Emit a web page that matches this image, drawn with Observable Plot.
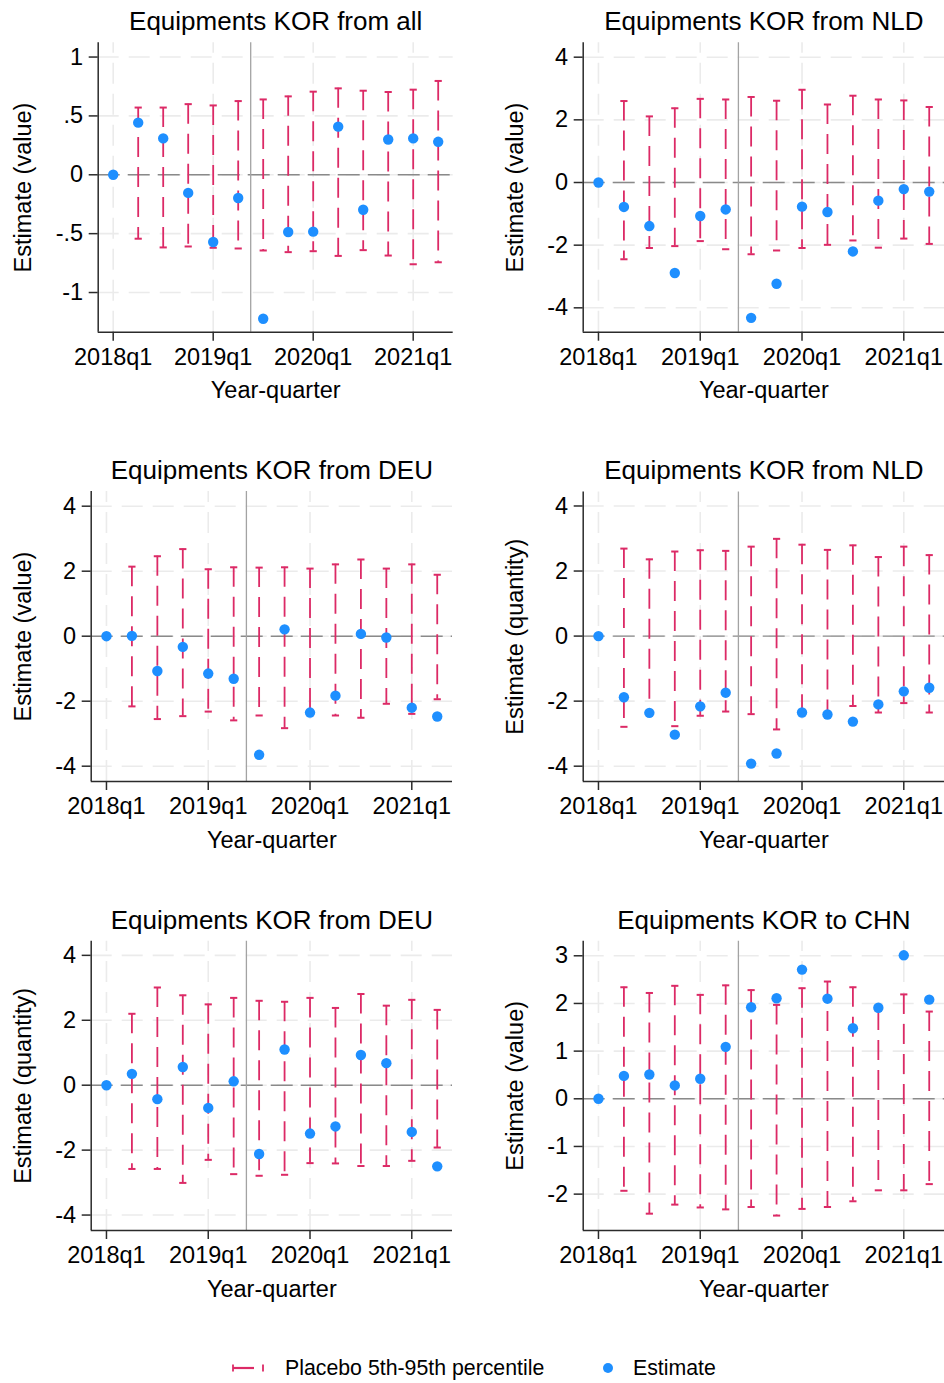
<!DOCTYPE html>
<html><head><meta charset="utf-8">
<script src="https://cdn.jsdelivr.net/npm/d3@7"></script>
<script src="https://cdn.jsdelivr.net/npm/@observablehq/plot@0.6"></script>
<style>
body{margin:0;background:#fff;}
#root{position:relative;width:944px;height:1383px;background:#fff;overflow:hidden;font-family:"Liberation Sans",Arial,sans-serif;}
.panel{position:absolute;}
.panel svg{overflow:visible;}
</style></head><body><div id="root"></div>
<script>
// ---------- data ----------
const quarters = ["2018q1","2018q2","2018q3","2018q4","2019q1","2019q2","2019q3","2019q4","2020q1","2020q2","2020q3","2020q4","2021q1","2021q2"];
const xTickIdx = [0, 4, 8, 12];
const xTickLabels = ["2018q1", "2019q1", "2020q1", "2021q1"];
const eventAt = 5.5; // treatment line between 2019q2 and 2019q3

const titles = ["Equipments KOR from all","Equipments KOR from NLD","Equipments KOR from DEU","Equipments KOR from NLD","Equipments KOR from DEU","Equipments KOR to CHN"];
const yLabels = ["Estimate (value)","Estimate (value)","Estimate (value)","Estimate (quantity)","Estimate (quantity)","Estimate (value)"];

const yTicksA = [1, 0.5, 0, -0.5, -1];
const yTickLabelsA = ["1", ".5", "0", "-.5", "-1"];
const yTicksB = [4, 2, 0, -2, -4];
const yTickLabelsB = ["4", "2", "0", "-2", "-4"];
const yTicksC = [3, 2, 1, 0, -1, -2];
const yTickLabelsC = ["3", "2", "1", "0", "-1", "-2"];

const est1 = [0, 0.443, 0.309, -0.154, -0.571, -0.197, -1.223, -0.486, -0.483, 0.409, -0.297, 0.300, 0.309, 0.280];
const lo1  = [null, -0.543, -0.617, -0.609, -0.620, -0.626, -0.643, -0.657, -0.649, -0.689, -0.640, -0.686, -0.760, -0.743];
const hi1  = [null, 0.571, 0.571, 0.600, 0.589, 0.626, 0.640, 0.666, 0.706, 0.734, 0.714, 0.703, 0.723, 0.797];

const est2 = [0, -0.78, -1.39, -2.89, -1.07, -0.86, -4.32, -3.23, -0.77, -0.94, -2.20, -0.58, -0.21, -0.29];
const lo2  = [null, -2.45, -2.09, -2.03, -1.87, -2.13, -2.29, -2.17, -2.09, -1.99, -1.85, -2.08, -1.79, -1.96];
const hi2  = [null, 2.60, 2.11, 2.37, 2.67, 2.65, 2.73, 2.61, 2.96, 2.49, 2.77, 2.65, 2.62, 2.41];

const est3 = [0, 0.01, -1.07, -0.33, -1.15, -1.31, -3.65, 0.21, -2.35, -1.83, 0.07, -0.04, -2.20, -2.47];
const lo3  = [null, -2.16, -2.55, -2.46, -2.32, -2.59, -2.44, -2.83, -2.33, -2.44, -2.51, -2.08, -2.39, -1.94];
const hi3  = [null, 2.14, 2.46, 2.68, 2.06, 2.12, 2.11, 2.12, 2.08, 2.21, 2.36, 2.08, 2.21, 1.89];

const est4 = [0, -1.88, -2.36, -3.03, -2.16, -1.74, -3.92, -3.61, -2.35, -2.41, -2.63, -2.10, -1.70, -1.59];
const lo4  = [null, -2.79, -2.35, -2.77, -2.45, -2.32, -2.40, -2.87, -2.32, -2.38, -2.15, -2.35, -2.06, -2.35];
const hi4  = [null, 2.69, 2.36, 2.60, 2.64, 2.62, 2.75, 2.99, 2.81, 2.65, 2.79, 2.43, 2.75, 2.49];

const est5 = [0, 0.35, -0.43, 0.56, -0.70, 0.12, -2.12, 1.10, -1.49, -1.27, 0.93, 0.68, -1.44, -2.50];
const lo5  = [null, -2.58, -2.58, -3.01, -2.30, -2.74, -2.79, -2.76, -2.40, -2.41, -2.49, -2.49, -2.33, -1.92];
const hi5  = [null, 2.20, 3.01, 2.77, 2.49, 2.69, 2.60, 2.57, 2.69, 2.38, 2.81, 2.45, 2.63, 2.32];

const est6 = [0, 0.48, 0.51, 0.28, 0.42, 1.09, 1.92, 2.11, 2.71, 2.10, 1.48, 1.91, 3.01, 2.08];
const lo6  = [null, -1.93, -2.41, -2.22, -2.28, -2.32, -2.27, -2.45, -2.31, -2.27, -2.15, -1.92, -1.92, -1.79];
const hi6  = [null, 2.34, 2.22, 2.37, 2.18, 2.38, 2.28, 1.97, 2.32, 2.46, 2.34, 1.85, 2.19, 1.83];

const legendLabels = ["Placebo 5th-95th percentile", "Estimate"];

// ---------- styles ----------
const RED = "#dc2a66";
const BLUE = "#1e8fff";
const GRID = "#ebebeb";
const AXIS = "#2b2b2b";
const FONT = "'Liberation Sans', Arial, Helvetica, sans-serif";
const xDomain = [-0.6, 13.6];

const capSymbol = {draw(ctx) { ctx.moveTo(-3.6, 0); ctx.lineTo(3.6, 0); }};

const panels = [
  {left: 0,   top: 0,   width: 470, ml: 97.7,  mr: 17.3, mt: 42.3, pb: 331.7, yDomain: [-1.337, 1.121], yTicks: yTicksA, yTickLabels: yTickLabelsA, est: est1, lo: lo1, hi: hi1, labX: 22.5},
  {left: 470, top: 0,   width: 474, ml: 112.7, mr: 0,    mt: 42.3, pb: 331.7, yDomain: [-4.778, 4.459], yTicks: yTicksB, yTickLabels: yTickLabelsB, est: est2, lo: lo2, hi: hi2, labX: 44.5},
  {left: 0,   top: 450, width: 470, ml: 90.7,  mr: 18,   mt: 41,   pb: 331,   yDomain: [-4.471, 4.452], yTicks: yTicksB, yTickLabels: yTickLabelsB, est: est3, lo: lo3, hi: hi3, labX: 22.5},
  {left: 470, top: 450, width: 474, ml: 112.7, mr: 0,    mt: 41.5, pb: 331,   yDomain: [-4.471, 4.43],  yTicks: yTicksB, yTickLabels: yTickLabelsB, est: est4, lo: lo4, hi: hi4, labX: 44.5},
  {left: 0,   top: 900, width: 470, ml: 90.7,  mr: 18,   mt: 40.7, pb: 330,   yDomain: [-4.476, 4.436], yTicks: yTicksB, yTickLabels: yTickLabelsB, est: est5, lo: lo5, hi: hi5, labX: 22.5},
  {left: 470, top: 900, width: 474, ml: 112.7, mr: 0,    mt: 40.7, pb: 330,   yDomain: [-2.763, 3.306], yTicks: yTicksC, yTickLabels: yTickLabelsC, est: est6, lo: lo6, hi: hi6, labX: 44.5}
];

const root = document.getElementById("root");

panels.forEach((cfg, k) => {
  const H = 410;
  const data = cfg.est.map((e, i) => ({q: i, label: quarters[i], est: e, lo: cfg.lo[i], hi: cfg.hi[i]}));
  const bars = data.filter(d => d.lo != null && d.hi != null);
  const [yb, yt] = cfg.yDomain;
  const chart = Plot.plot({
    width: cfg.width,
    height: H,
    marginLeft: cfg.ml,
    marginRight: cfg.mr,
    marginTop: cfg.mt,
    marginBottom: H - cfg.pb,
    x: {domain: xDomain},
    y: {domain: cfg.yDomain},
    style: {fontFamily: FONT, fontSize: "23px", background: "white", color: "black", overflow: "visible"},
    marks: [
      Plot.gridY(cfg.yTicks, {stroke: GRID, strokeOpacity: 1, strokeWidth: 1.6, strokeDasharray: "21,10"}),
      Plot.ruleX(xTickIdx, {y1: yb, y2: yt, stroke: GRID, strokeOpacity: 1, strokeWidth: 1.6, strokeDasharray: "21,10"}),
      Plot.ruleY([0], {stroke: "#8a8a8a", strokeWidth: 1.4, strokeDasharray: "22,8"}),
      Plot.ruleX([eventAt], {stroke: "#a3a3a3", strokeWidth: 1.3}),
      Plot.ruleX(bars, {x: "q", y1: "hi", y2: "lo", stroke: RED, strokeWidth: 1.8, strokeDasharray: "20,10"}),
      Plot.dot(bars, {x: "q", y: "hi", symbol: capSymbol, fill: "none", stroke: RED, strokeWidth: 2}),
      Plot.dot(bars, {x: "q", y: "lo", symbol: capSymbol, fill: "none", stroke: RED, strokeWidth: 2}),
      Plot.dot(data, {x: "q", y: "est", r: 5.2, fill: BLUE, stroke: "none"}),
      Plot.ruleX([xDomain[0]], {stroke: AXIS, strokeWidth: 1.5}),
      Plot.ruleY([yb], {stroke: AXIS, strokeWidth: 1.5}),
      Plot.axisY({ticks: cfg.yTicks, tickFormat: (d, i) => cfg.yTickLabels[i], tickSize: 9, tickPadding: 6, fontSize: 23.5, stroke: AXIS, strokeWidth: 1.5, fill: "black", label: null}),
      Plot.axisX({ticks: xTickIdx, tickFormat: (d, i) => xTickLabels[i], tickSize: 9, tickPadding: 7, fontSize: 23.5, stroke: AXIS, strokeWidth: 1.5, fill: "black", label: null}),
      Plot.text([titles[k]], {text: d => d, frameAnchor: "top", textAnchor: "middle", lineAnchor: "middle", dy: -21, fontSize: 26, fill: "black"}),
      Plot.text([yLabels[k]], {text: d => d, frameAnchor: "left", textAnchor: "middle", lineAnchor: "middle", dx: cfg.labX - cfg.ml, rotate: -90, fontSize: 23.5, fill: "black"}),
      Plot.text(["Year-quarter"], {text: d => d, frameAnchor: "bottom", textAnchor: "middle", lineAnchor: "middle", dy: 58.5, fontSize: 23.5, fill: "black"})
    ]
  });
  const div = document.createElement("div");
  div.className = "panel";
  div.style.left = cfg.left + "px";
  div.style.top = cfg.top + "px";
  div.appendChild(chart);
  root.appendChild(div);
});

// ---------- legend ----------
const leg = d3.create("svg").attr("width", 944).attr("height", 50)
  .style("position", "absolute").style("left", "0px").style("top", "1343px")
  .style("font-family", FONT);
const ly = 25;
leg.append("line").attr("x1", 233).attr("x2", 254).attr("y1", ly).attr("y2", ly).attr("stroke", RED).attr("stroke-width", 2.2);
leg.append("line").attr("x1", 233).attr("x2", 233).attr("y1", ly - 3.5).attr("y2", ly + 3.5).attr("stroke", RED).attr("stroke-width", 1.8);
leg.append("line").attr("x1", 263).attr("x2", 263).attr("y1", ly - 3.5).attr("y2", ly + 3.5).attr("stroke", RED).attr("stroke-width", 1.8);
leg.append("text").attr("x", 285).attr("y", ly).attr("dy", "0.35em").attr("font-size", 21.3).text(legendLabels[0]);
leg.append("circle").attr("cx", 608).attr("cy", ly).attr("r", 5).attr("fill", BLUE);
leg.append("text").attr("x", 633).attr("y", ly).attr("dy", "0.35em").attr("font-size", 21.3).text(legendLabels[1]);
root.appendChild(leg.node());
</script>
</body></html>
